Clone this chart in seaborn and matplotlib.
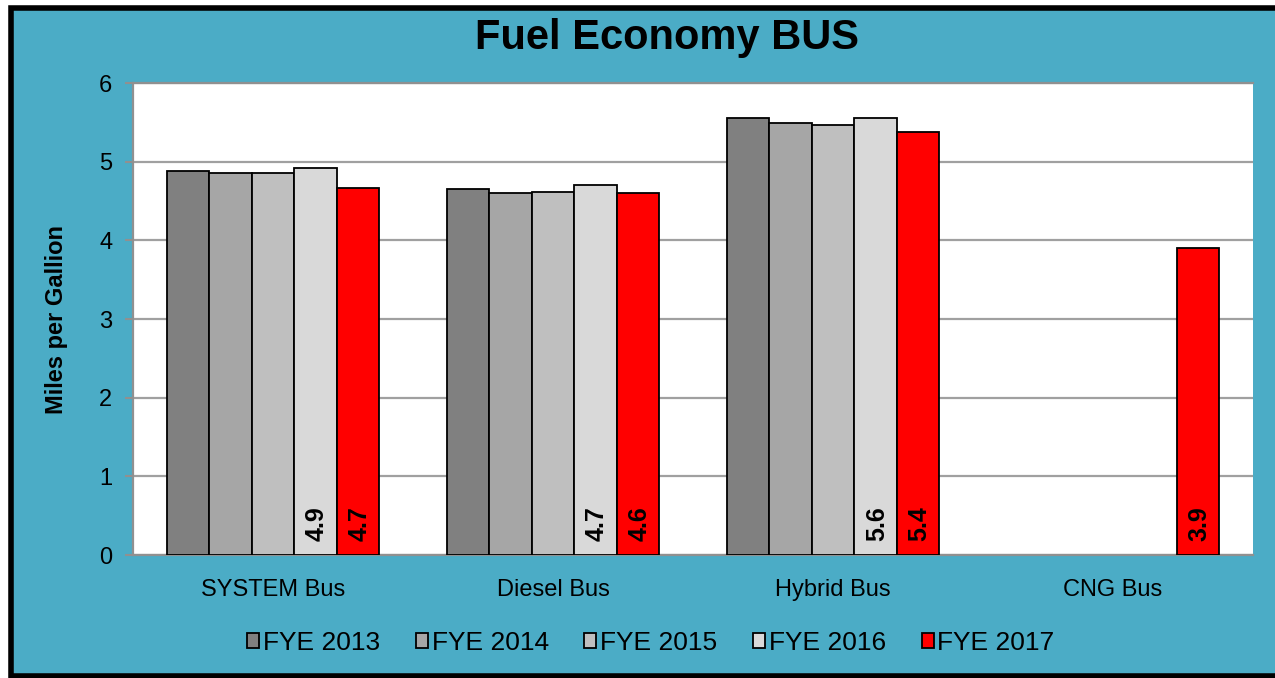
import matplotlib
matplotlib.use("Agg")
import matplotlib.pyplot as plt
from matplotlib.patches import Rectangle, Patch
import seaborn as sns
import pandas as pd
import numpy as np

categories = ["SYSTEM Bus", "Diesel Bus", "Hybrid Bus", "CNG Bus"]
years = ["FYE 2013", "FYE 2014", "FYE 2015", "FYE 2016", "FYE 2017"]
fye2013 = [4.88, 4.65, 5.56, np.nan]
fye2014 = [4.85, 4.60, 5.49, np.nan]
fye2015 = [4.85, 4.62, 5.46, np.nan]
fye2016 = [4.92, 4.70, 5.56, np.nan]
fye2017 = [4.67, 4.60, 5.38, 3.90]
colors = ["#808080", "#A6A6A6", "#BFBFBF", "#D9D9D9", "#FF0000"]
labeled_years = ["FYE 2016", "FYE 2017"]

series = [fye2013, fye2014, fye2015, fye2016, fye2017]
rows = []
for yr, vals in zip(years, series):
    for cat, v in zip(categories, vals):
        rows.append({"category": cat, "year": yr, "mpg": v})
df = pd.DataFrame(rows)

sns.set_style("white")
plt.rcParams["font.family"] = ["Liberation Sans", "DejaVu Sans"]
plt.rcParams["text.color"] = "black"
plt.rcParams["axes.labelcolor"] = "black"
plt.rcParams["xtick.labelcolor"] = "black"
plt.rcParams["ytick.labelcolor"] = "black"

fig = plt.figure(figsize=(12.75, 6.78), dpi=100)
fig.patch.set_facecolor("white")
teal = "#4BACC6"
fig.patches.append(Rectangle((10.5 / 1275, 2 / 678), 1.1, 668 / 678,
                             transform=fig.transFigure, facecolor=teal,
                             edgecolor="black", linewidth=4, zorder=-10))

ax = fig.add_axes([133 / 1275, 1 - 555 / 678, 1120 / 1275, 472 / 678])
ax.set_facecolor("white")

sns.barplot(data=df.dropna(), x="category", y="mpg", hue="year",
            order=categories, hue_order=years, palette=colors,
            width=0.76, errorbar=None, edgecolor="black", linewidth=1.3,
            saturation=1, ax=ax, legend=False, zorder=3)

# value labels for the last two years
for container, yr in zip(ax.containers, years):
    if yr not in labeled_years:
        continue
    for bar in container:
        h = bar.get_height()
        if np.isnan(h) or h == 0:
            continue
        ax.annotate(f"{h:.1f}", (bar.get_x() + bar.get_width() / 2, 0),
                    xytext=(1, 10), textcoords="offset points",
                    rotation=90, ha="center", va="bottom",
                    fontsize=18, fontweight="bold", color="black", zorder=5)

ax.set_ylim(0, 6)
ax.set_xlim(-0.5, 3.5)
ax.set_yticks(range(0, 7))
ax.yaxis.grid(True, color="#A0A0A0", linewidth=1.6, zorder=0)
ax.set_axisbelow(True)
for side in ["left", "bottom", "top"]:
    ax.spines[side].set_color("#909090")
    ax.spines[side].set_linewidth(1.6)
ax.spines["right"].set_visible(False)

ax.set_xticks(np.arange(-0.5, 4, 1), minor=True)
ax.tick_params(axis="x", which="major", length=0, pad=17, labelsize=17)
ax.tick_params(axis="x", which="minor", length=6, color="#909090", width=1.5)
ax.tick_params(axis="y", length=6, color="#909090", width=1.5, pad=9, labelsize=17,
               left=True)
ax.set_xlabel("")
ax.set_ylabel("Miles per Gallion", fontsize=17, fontweight="bold")
ax.yaxis.set_label_coords(-0.058, 0.5)

fig.text(667 / 1275, 1 - 38 / 678, "Fuel Economy BUS", ha="center", va="center",
         fontsize=30, fontweight="bold", color="black")

handles = [Patch(facecolor=c, edgecolor="black", linewidth=1.3) for c in colors]
fig.legend(handles, years, loc="center", bbox_to_anchor=(651 / 1275, 1 - 643 / 678),
           ncol=5, frameon=False, fontsize=19, handlelength=0.45, handleheight=0.5,
           handletextpad=0.15, columnspacing=1.35)

fig.savefig("out.png", dpi=100, facecolor=fig.get_facecolor())
